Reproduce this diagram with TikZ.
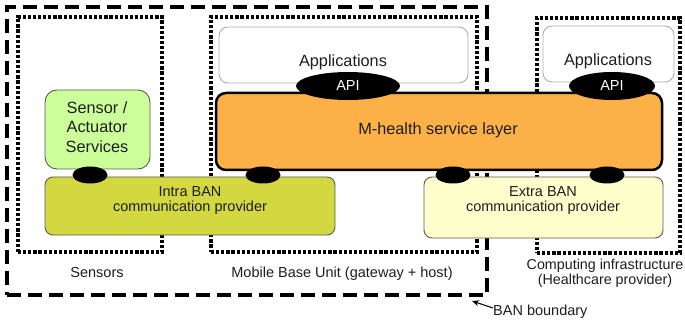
\documentclass[tikz,border=0pt]{standalone}
\usepackage{fontspec}
\setmainfont{Liberation Sans}
\usetikzlibrary{shapes.geometric,arrows.meta}
\definecolor{mhorange}{RGB}{251,177,72}
\definecolor{intracol}{RGB}{212,216,64}
\definecolor{sensgreen}{RGB}{204,255,153}
\definecolor{extracol}{RGB}{255,255,204}
\definecolor{appgray}{RGB}{175,175,175}
\definecolor{edgegray}{RGB}{90,90,90}
\definecolor{txt}{RGB}{30,30,30}
\begin{document}
\begin{tikzpicture}[x=1pt,y=-1pt,
  region/.style={rectangle, draw=black, line width=3.4pt, dash pattern=on 3.2pt off 1.9pt, inner sep=0pt},
  banline/.style={rectangle, draw=black, line width=3.5pt, dash pattern=on 14pt off 7pt, inner sep=0pt},
  appbox/.style={rectangle, rounded corners=9pt, draw=appgray, line width=0.9pt, fill=white, inner sep=0pt},
  layerbox/.style={rectangle, rounded corners=8pt, draw=edgegray, line width=0.9pt, inner sep=0pt},
  api/.style={ellipse, fill=black, text=white, inner sep=0pt, minimum height=28pt, font=\fontsize{14.5}{15}\selectfont},
  port/.style={ellipse, fill=black, minimum width=35pt, minimum height=17pt, inner sep=0pt},
  lbl/.style={font=\fontsize{14.5}{15.5}\selectfont, align=center, inner sep=0pt, text=txt},
  big/.style={font=\fontsize{16.3}{19.5}\selectfont, align=center, inner sep=0pt, text=txt}]
\useasboundingbox (0,0) rectangle (685,323);
% regions
\node[region, minimum width=144pt, minimum height=235pt] (sensreg) at (90,134.5) {};
\node[region, minimum width=266pt, minimum height=235pt] (mobreg) at (344,134.5) {};
\node[region, minimum width=143pt, minimum height=235pt] (compreg) at (608.5,135.5) {};
\node[banline, minimum width=480pt, minimum height=288pt] (ban) at (247,151) {};
% applications
\node[appbox, minimum width=249pt, minimum height=56pt] (app1) at (343.5,55) {};
\node[appbox, minimum width=131pt, minimum height=56pt] (app2) at (608.5,54) {};
\node[big] (app1t) at (343,62) {Applications};
\node[big] (app2t) at (608,61) {Applications};
% M-health service layer
\node[rectangle, rounded corners=10pt, draw=black, line width=2.5pt, fill=mhorange, minimum width=446pt, minimum height=77pt, inner sep=0pt] (mh) at (439,131.5) {};
\node[big] (mht) at (438,130) {M-health service layer};
% API ellipses
\node[api, minimum width=104pt] (api1) at (348,86) {API};
\node[api, minimum width=86pt] (api2) at (612,86) {API};
% communication providers
\node[layerbox, fill=intracol, minimum width=290pt, minimum height=58pt] (intra) at (190,206) {};
\node[lbl] (intrat) at (190,200.5) {Intra BAN\\communication provider};
\node[layerbox, fill=extracol, minimum width=239pt, minimum height=61pt] (extra) at (543.5,207.5) {};
\node[lbl] (extrat) at (543,200.5) {Extra BAN\\communication provider};
% sensor services
\node[rectangle, rounded corners=12pt, draw=edgegray, line width=0.9pt, fill=sensgreen, minimum width=105pt, minimum height=79pt, inner sep=0pt] (sens) at (97.5,129.5) {};
\node[big] (senst) at (97,127) {Sensor /\\Actuator\\Services};
% ports
\node[port] (p1) at (90,175) {};
\node[port] (p2) at (263,175) {};
\node[port] (p3) at (453,175) {};
\node[port] (p4) at (607,175) {};
% region labels
\node[lbl] (sensl) at (97,273) {Sensors};
\node[lbl] (mobl) at (342,274) {Mobile Base Unit (gateway + host)};
\node[lbl, font=\fontsize{14.3}{15}\selectfont] (compl) at (605,273.5) {Computing infrastructure\\(Healthcare provider)};
% BAN boundary label
\node[lbl, anchor=west] (banl) at (493,312) {BAN boundary};
\coordinate (bantip) at (472,301);
\draw[-{Stealth[length=7pt,width=6pt]}, line width=1pt] (banl.west) ++(0,-4) -- (bantip);
\end{tikzpicture}
\end{document}
